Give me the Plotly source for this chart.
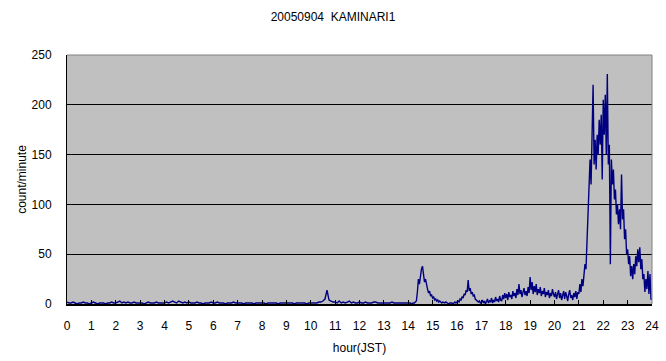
import plotly.graph_objects as go

# 0:00-14:00, 5-minute samples (12 per hour)
h00 = [2, 1, 1, 2, 1, 0, 1, 1, 2, 1, 1, 0]
h01 = [1, 2, 1, 0, 1, 1, 1, 0, 1, 1, 2, 1]
h02 = [1, 2, 3, 1, 2, 1, 2, 1, 1, 2, 1, 1]
h03 = [1, 1, 0, 1, 2, 1, 1, 1, 2, 1, 1, 1]
h04 = [1, 2, 1, 2, 3, 2, 1, 3, 2, 1, 2, 1]
h05 = [2, 1, 1, 1, 2, 1, 1, 0, 1, 1, 1, 2]
h06 = [1, 1, 2, 1, 1, 1, 0, 1, 1, 1, 2, 1]
h07 = [1, 1, 1, 0, 1, 1, 1, 1, 0, 1, 1, 1]
h08 = [1, 1, 0, 1, 1, 1, 1, 1, 0, 1, 1, 1]
h09 = [1, 1, 1, 1, 0, 1, 1, 1, 1, 1, 0, 1]
h10 = [1, 1, 1, 1, 2, 2, 3, 5, 14, 4, 3, 2]
h11 = [2, 1, 3, 1, 2, 1, 2, 3, 1, 2, 1, 1]
h12 = [2, 1, 1, 2, 1, 1, 1, 2, 2, 1, 1, 1]
h13 = [1, 1, 1, 1, 2, 1, 1, 1, 1, 1, 1, 1]

# 14:00-24:00, 2.5-minute samples (24 per hour)
h14 = [1, 1, 1, 0, 1, 1, 1, 2, 3, 12, 25, 20, 30, 35, 38, 28, 22, 25, 18, 15, 11, 13, 8, 9]
h15 = [6, 7, 4, 5, 3, 4, 2, 3, 2, 1, 2, 1, 1, 2, 1, 1, 0, 1, 1, 1, 0, 1, 2, 1]
h16 = [2, 3, 2, 5, 4, 7, 6, 10, 9, 14, 12, 24, 13, 16, 10, 12, 8, 9, 5, 4, 3, 2, 3, 1]
h17 = [2, 4, 1, 3, 0, 2, 5, 1, 3, 2, 6, 1, 4, 2, 7, 3, 5, 2, 8, 4, 3, 9, 5, 11]
h18 = [6, 10, 4, 12, 7, 9, 5, 13, 8, 11, 6, 15, 9, 20, 10, 14, 7, 12, 16, 9, 13, 8, 17, 11]
h19 = [27, 14, 22, 10, 18, 12, 20, 9, 15, 11, 17, 8, 13, 10, 16, 7, 12, 9, 14, 6, 11, 8, 15, 10]
h20 = [7, 12, 5, 10, 14, 6, 11, 4, 9, 13, 5, 12, 8, 3, 10, 14, 6, 9, 4, 11, 7, 13, 5, 12]
h21 = [10, 20, 12, 25, 18, 30, 40, 35, 60, 80, 110, 145, 120, 190, 220, 140,
       165, 135, 170, 150, 185, 160, 190, 125]
h22 = [205, 170, 210, 150, 231, 140, 160, 40, 145, 120, 135, 105, 115, 90, 100, 80,
       95, 75, 130, 85, 95, 65, 75, 50]
h23 = [55, 40, 48, 28, 38, 25, 40, 30, 48, 38, 55, 42, 57, 35, 45, 25,
       30, 12, 25, 15, 33, 10, 30, 5]
end_value = [5]

early = h00 + h01 + h02 + h03 + h04 + h05 + h06 + h07 + h08 + h09 + h10 + h11 + h12 + h13
late = h14 + h15 + h16 + h17 + h18 + h19 + h20 + h21 + h22 + h23 + end_value

counts = early + late
minutes = [i * 5.0 for i in range(len(early))] + [14 * 60 + i * 2.5 for i in range(len(late))]
hours = [m / 60 for m in minutes]

x_ticks = list(range(0, 25))
y_ticks = [0, 50, 100, 150, 200, 250]

font = dict(family="Liberation Sans, Arial, sans-serif", size=12, color="black")

fig = go.Figure()
fig.add_trace(go.Scatter(x=hours, y=counts, mode="lines",
                         line=dict(color="#000080", width=1.4), showlegend=False))

fig.update_layout(
    width=666, height=361,
    margin=dict(l=67, r=14, t=55, b=57),
    paper_bgcolor="white",
    plot_bgcolor="#C0C0C0",
    font=font,
    title=dict(text="20050904  KAMINARI1", x=0.5, xref="container", xanchor="center",
               y=1 - 17 / 361, yref="container", yanchor="middle",
               font=dict(family="Liberation Sans, Arial, sans-serif", size=12, color="black")),
    xaxis=dict(range=[0, 24], tickvals=x_ticks, ticktext=[str(t) for t in x_ticks],
               ticks="inside", ticklen=4, tickcolor="black", tickwidth=1,
               showline=True, linecolor="black", linewidth=2,
               showgrid=False, zeroline=False, ticklabelstandoff=10, automargin=False,
               title=dict(text="hour(JST)", standoff=11, font=font)),
    yaxis=dict(range=[0, 250], tickvals=y_ticks, ticktext=[str(t) for t in y_ticks],
               ticks="", showline=True, linecolor="black", linewidth=1,
               showgrid=True, gridcolor="black", gridwidth=1, zeroline=False,
               ticklabelstandoff=12, automargin=False,
               title=dict(text="count/minute", standoff=2, font=font)),
)

# gray top and right borders of the plot area
fig.add_shape(type="line", xref="paper", yref="paper", x0=0, x1=1, y0=1, y1=1,
              line=dict(color="#808080", width=1), layer="above")
fig.add_shape(type="line", xref="paper", yref="paper", x0=1, x1=1, y0=0, y1=1,
              line=dict(color="#808080", width=1), layer="above")

fig.write_html("out.html")
